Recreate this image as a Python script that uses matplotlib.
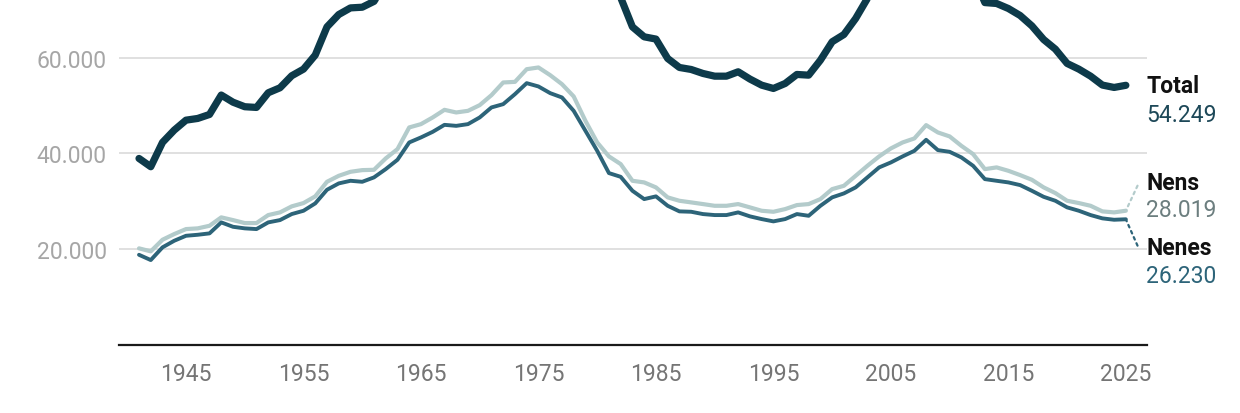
import numpy as np
import matplotlib
matplotlib.use("Agg")
from matplotlib import pyplot as plt
from matplotlib import ticker

plt.rcParams['font.family'] = ['Roboto', 'DejaVu Sans']

# years 1941..2025
years = list(range(1941, 2026))

# nens (boys)
nens = [20150, 19520, 21950, 23140, 24180, 24330, 24870, 26630, 26060, 25440,
        25440, 27110, 27670, 28930, 29620, 31020, 34070, 35320, 36160, 36510,
        36580, 38960, 40900, 45440, 46130, 47530, 49120, 48570, 48910, 50100,
        52190, 54840, 54970, 57620, 57980, 56370, 54490, 51920, 46820, 42300,
        39380, 37770, 34280, 33940, 32900, 30810, 30100, 29760, 29410, 29050,
        29050, 29410, 28720, 28010, 27800, 28360, 29200, 29410, 30450, 32540,
        33230, 35320, 37410, 39380, 41050, 42300, 43140, 45920, 44390, 43560,
        41590, 39860, 36720, 37080, 36370, 35470, 34490, 32900, 31710, 30100,
        29620, 29050, 27880, 27670, 28019]

# nenes (girls)
nenes = [18800, 17700, 20360, 21740, 22780, 22990, 23280, 25580, 24660, 24330,
         24180, 25580, 26060, 27320, 28010, 29550, 32400, 33730, 34280, 34070,
         34990, 36720, 38670, 42300, 43350, 44520, 45980, 45770, 46130, 47530,
         49620, 50310, 52400, 54700, 54010, 52610, 51710, 48910, 44730, 40550,
         35890, 35110, 32190, 30450, 31020, 29050, 27880, 27800, 27320, 27110,
         27110, 27670, 26840, 26270, 25790, 26270, 27320, 26960, 29050, 30810,
         31640, 32900, 34990, 37080, 38120, 39380, 40550, 42850, 40690, 40340,
         39170, 37410, 34630, 34280, 33940, 33380, 32190, 30930, 30100, 28720,
         28010, 27110, 26420, 26130, 26230]

# total births
total = [38950, 37220, 42310, 44880, 46960, 47320, 48150, 52210, 50720, 49770,
         49620, 52690, 53730, 56250, 57630, 60570, 66470, 69050, 70440, 70580,
         71800, 75680, 79570, 87740, 89480, 92050, 95100, 94340, 95040, 97630,
         101810, 105150, 107370, 112320, 111990, 108980, 106200, 100830, 91550, 82850,
         75270, 72600, 66470, 64390, 63920, 59860, 57980, 57560, 56730, 56160,
         56160, 57080, 55560, 54280, 53590, 54630, 56520, 56370, 59500, 63350,
         64870, 68220, 72400, 76460, 79170, 81680, 83690, 88770, 85080, 83900,
         80760, 77270, 71550, 71360, 70310, 68850, 66680, 63830, 61810, 58820,
         57630, 56160, 54300, 53800, 54249]

xticks = [1945, 1955, 1965, 1975, 1985, 1995, 2005, 2015, 2025]
yticks = [20000, 40000, 60000]

c_total = '#0d3a4a'
c_nenes = '#2d6479'
c_nens = '#b3cbcb'

fig = plt.figure(figsize=(12.4, 4.14), dpi=100)
ax = fig.add_axes([0.096, 0.165, 0.829, 0.835])

ax.plot(years, nens, color=c_nens, lw=3.0, solid_joinstyle='round', solid_capstyle='round', zorder=3)
ax.plot(years, nenes, color=c_nenes, lw=2.8, solid_joinstyle='round', solid_capstyle='round', zorder=4)
ax.plot(years, total, color=c_total, lw=5.2, solid_joinstyle='round', solid_capstyle='round', zorder=5)

ax.set_xlim(1939.3, 2026.8)
ax.set_ylim(0, 72300)

ax.set_xticks(xticks)
ax.set_yticks(yticks)
ax.yaxis.set_major_formatter(ticker.FuncFormatter(lambda v, p: f'{int(v):,}'.replace(',', '.')))
ax.tick_params(axis='x', length=0, pad=12.5, labelsize=16.5, labelcolor='#757575')
ax.tick_params(axis='y', length=0, pad=9, labelsize=16.5, labelcolor='#a6a6a6')
ax.grid(axis='y', color='#dddddd', lw=1.3)
ax.set_axisbelow(True)
for s in ['top', 'right', 'left']:
    ax.spines[s].set_visible(False)
ax.spines['bottom'].set_color('#1a1a1a')
ax.spines['bottom'].set_linewidth(1.6)

# end labels
x_end = years[-1]
def label(y, name, value, vcolor, dy_name, dy_val):
    ax.annotate(name, xy=(x_end, y), xytext=(14.8, dy_name), textcoords='offset points',
                ha='left', va='center', fontsize=16.5, fontweight='bold', color='#111111',
                annotation_clip=False)
    ax.annotate(value, xy=(x_end, y), xytext=(14.8, dy_val), textcoords='offset points',
                ha='left', va='center', fontsize=16.5, color=vcolor, annotation_clip=False)

label(total[-1], 'Total', '54.249', '#1d4858', 0, -20.9)
label(nens[-1], 'Nens', '28.019', '#6c7e7f', 20.6, 1.0)
label(nenes[-1], 'Nenes', '26.230', c_nenes, -20.2, -40.2)

# dotted connectors
ax.annotate('', xy=(x_end, nens[-1]), xytext=(8.4, 18), textcoords='offset points',
            arrowprops=dict(arrowstyle='-', color=c_nens, lw=1.6, linestyle=(0, (1.2, 1.8)),
                            shrinkA=0, shrinkB=0), annotation_clip=False)
ax.annotate('', xy=(x_end, nenes[-1]), xytext=(8.4, -19), textcoords='offset points',
            arrowprops=dict(arrowstyle='-', color=c_nenes, lw=1.6, linestyle=(0, (1.2, 1.8)),
                            shrinkA=0, shrinkB=0), annotation_clip=False)

fig.savefig('out.png', dpi=100)
